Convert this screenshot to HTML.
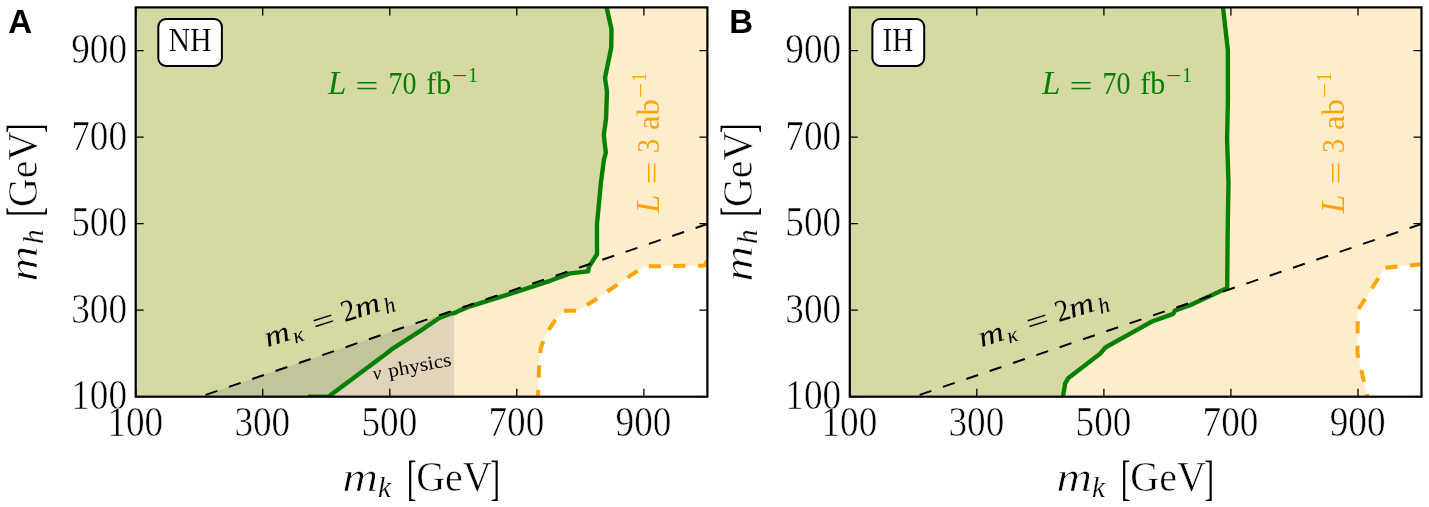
<!DOCTYPE html>
<html lang="en"><head><meta charset="utf-8"><title>Figure</title>
<style>html,body{margin:0;padding:0;background:#fff}svg{display:block}</style>
</head><body>
<svg width="1429" height="507" viewBox="0 0 1429 507">
<rect x="0" y="0" width="1429" height="507" fill="#ffffff"/>
<clipPath id="clipA"><rect x="135.7" y="7.4" width="571.7" height="389.3"/></clipPath>
<g clip-path="url(#clipA)">
<polygon points="135.7,7.4 707.4,7.4 707.4,260.3 704.5,265.6 650.0,266.3 643.6,266.5 597.0,298.7 577.5,310.8 563.8,310.8 556.5,318.5 549.5,328.5 544.5,337.5 540.6,349.0 539.3,362.0 538.0,396.7 135.7,396.7" fill="#ffedcc"/>
<polygon points="135.7,7.4 606.6,7.4 611.5,29.2 611.3,47.3 607.4,66.2 605.0,78.0 607.0,91.7 606.0,119.3 603.8,135.0 605.8,152.8 603.9,160.0 600.8,183.7 597.0,224.0 597.0,254.2 589.0,266.6 588.1,271.4 570.1,273.4 550.0,280.8 514.0,292.6 470.0,306.3 459.4,310.6 455.1,312.8 449.7,313.9 438.8,318.2 421.5,330.1 391.1,349.7 386.8,353.3 328.6,396.5 308.0,396.7 135.7,396.7" fill="#d6d9a3"/>
<polygon points="199.2,396.7 454.2,396.7 454.2,310.5" fill="#808080" fill-opacity="0.23"/>
<polyline points="606.6,7.4 611.5,29.2 611.3,47.3 607.4,66.2 605.0,78.0 607.0,91.7 606.0,119.3 603.8,135.0 605.8,152.8 603.9,160.0 600.8,183.7 597.0,224.0 597.0,254.2 589.0,266.6 588.1,271.4 570.1,273.4 550.0,280.8 514.0,292.6 470.0,306.3 459.4,310.6 455.1,312.8 449.7,313.9 438.8,318.2 421.5,330.1 391.1,349.7 386.8,353.3 328.6,396.5 308.0,396.7" fill="none" stroke="#058005" stroke-width="4.4" stroke-linejoin="round"/>
<polyline points="538.0,396.7 539.3,362.0 540.6,349.0 544.5,337.5 549.5,328.5 556.5,318.5 563.8,310.8 577.5,310.8 597.0,298.7 643.6,266.5 650.0,266.3 704.5,265.6 707.4,260.3" fill="none" stroke="#ffa50a" stroke-width="4.05" stroke-dasharray="12.2 12.4" stroke-dashoffset="5.3" stroke-linejoin="miter"/>
<line x1="199.2" y1="397.0" x2="707.4" y2="224.0" stroke="#000" stroke-width="2" stroke-dasharray="12.45 12.2" stroke-dashoffset="-6.7"/>
</g>
<path d="M135.7 396.7v-8M135.7 7.4v8M135.7 396.7h8M707.4 396.7h-8M262.7 396.7v-8M262.7 7.4v8M135.7 310.2h8M707.4 310.2h-8M389.8 396.7v-8M389.8 7.4v8M135.7 223.7h8M707.4 223.7h-8M516.8 396.7v-8M516.8 7.4v8M135.7 137.2h8M707.4 137.2h-8M643.9 396.7v-8M643.9 7.4v8M135.7 50.7h8M707.4 50.7h-8" stroke="#000" stroke-width="1.3" fill="none"/>
<rect x="135.7" y="7.4" width="571.7" height="389.3" fill="none" stroke="#000" stroke-width="2.2"/>
<text transform="translate(127.0 409.3) scale(1 1.135)" font-family="'Liberation Serif', 'DejaVu Serif', serif" font-size="37.2" fill="#000" text-anchor="end" stroke="#fff" stroke-width="0.5">100</text>
<text transform="translate(135.3 436.0) scale(1 1.135)" font-family="'Liberation Serif', 'DejaVu Serif', serif" font-size="37.2" fill="#000" text-anchor="middle" stroke="#fff" stroke-width="0.5">100</text>
<text transform="translate(127.0 322.8) scale(1 1.135)" font-family="'Liberation Serif', 'DejaVu Serif', serif" font-size="37.2" fill="#000" text-anchor="end" stroke="#fff" stroke-width="0.5">300</text>
<text transform="translate(262.3 436.0) scale(1 1.135)" font-family="'Liberation Serif', 'DejaVu Serif', serif" font-size="37.2" fill="#000" text-anchor="middle" stroke="#fff" stroke-width="0.5">300</text>
<text transform="translate(127.0 236.3) scale(1 1.135)" font-family="'Liberation Serif', 'DejaVu Serif', serif" font-size="37.2" fill="#000" text-anchor="end" stroke="#fff" stroke-width="0.5">500</text>
<text transform="translate(389.4 436.0) scale(1 1.135)" font-family="'Liberation Serif', 'DejaVu Serif', serif" font-size="37.2" fill="#000" text-anchor="middle" stroke="#fff" stroke-width="0.5">500</text>
<text transform="translate(127.0 149.8) scale(1 1.135)" font-family="'Liberation Serif', 'DejaVu Serif', serif" font-size="37.2" fill="#000" text-anchor="end" stroke="#fff" stroke-width="0.5">700</text>
<text transform="translate(516.4 436.0) scale(1 1.135)" font-family="'Liberation Serif', 'DejaVu Serif', serif" font-size="37.2" fill="#000" text-anchor="middle" stroke="#fff" stroke-width="0.5">700</text>
<text transform="translate(127.0 63.3) scale(1 1.135)" font-family="'Liberation Serif', 'DejaVu Serif', serif" font-size="37.2" fill="#000" text-anchor="end" stroke="#fff" stroke-width="0.5">900</text>
<text transform="translate(643.5 436.0) scale(1 1.135)" font-family="'Liberation Serif', 'DejaVu Serif', serif" font-size="37.2" fill="#000" text-anchor="middle" stroke="#fff" stroke-width="0.5">900</text>
<text transform="translate(342.2 491.0)" font-family="'Liberation Serif', 'DejaVu Serif', serif" font-size="41" fill="#000" text-anchor="start" font-style="italic" stroke="#fff" stroke-width="0.7" textLength="36.0" lengthAdjust="spacingAndGlyphs">m</text>
<text transform="translate(378.0 496.8)" font-family="'Liberation Serif', 'DejaVu Serif', serif" font-size="29" fill="#000" text-anchor="start" font-style="italic" stroke="#fff" stroke-width="0.2">k</text>
<text transform="translate(406.9 493.6) scale(1 1.72)" font-family="'Liberation Serif', 'DejaVu Serif', serif" font-size="28" fill="#000" text-anchor="start">[</text>
<text transform="translate(416.2 491.0) scale(1 1.133)" font-family="'Liberation Serif', 'DejaVu Serif', serif" font-size="38" fill="#000" text-anchor="start" stroke="#fff" stroke-width="0.5" textLength="75.5" lengthAdjust="spacingAndGlyphs">GeV</text>
<text transform="translate(490.4 493.6) scale(1 1.72)" font-family="'Liberation Serif', 'DejaVu Serif', serif" font-size="28" fill="#000" text-anchor="start">]</text>
<g transform="translate(37.4 281.0) rotate(-90)">
<text transform="translate(-0.8 0.0)" font-family="'Liberation Serif', 'DejaVu Serif', serif" font-size="41" fill="#000" text-anchor="start" font-style="italic" stroke="#fff" stroke-width="0.7" textLength="36.0" lengthAdjust="spacingAndGlyphs">m</text>
<text transform="translate(37.0 5.6)" font-family="'Liberation Serif', 'DejaVu Serif', serif" font-size="29" fill="#000" text-anchor="start" font-style="italic" stroke="#fff" stroke-width="0.2">h</text>
<text transform="translate(64.6 2.6) scale(1 1.72)" font-family="'Liberation Serif', 'DejaVu Serif', serif" font-size="28" fill="#000" text-anchor="start">[</text>
<text transform="translate(73.9 0.0) scale(1 1.133)" font-family="'Liberation Serif', 'DejaVu Serif', serif" font-size="38" fill="#000" text-anchor="start" stroke="#fff" stroke-width="0.5" textLength="75.5" lengthAdjust="spacingAndGlyphs">GeV</text>
<text transform="translate(148.1 2.6) scale(1 1.72)" font-family="'Liberation Serif', 'DejaVu Serif', serif" font-size="28" fill="#000" text-anchor="start">]</text>
</g>
<text transform="translate(8.2 32.6)" font-family="'Liberation Sans', 'DejaVu Sans', sans-serif" font-size="33" fill="#000" text-anchor="start" font-weight="bold">A</text>
<rect x="158.3" y="19.0" width="63.6" height="46.9" rx="7.5" ry="8" fill="#fff" stroke="#000" stroke-width="2"/>
<text transform="translate(168.4 51.4) scale(1 1.1)" font-family="'Liberation Serif', 'DejaVu Serif', serif" font-size="30" fill="#000" text-anchor="start" stroke="#fff" stroke-width="0.2" textLength="43.3" lengthAdjust="spacingAndGlyphs">NH</text>
<text transform="translate(328.0 93.9)" font-family="'Liberation Serif', 'DejaVu Serif', serif" font-size="33" fill="#058005" text-anchor="start" font-style="italic">L</text>
<text transform="translate(355.5 96.3)" font-family="'Liberation Serif', 'DejaVu Serif', serif" font-size="30" fill="#058005" text-anchor="start" textLength="23.0" lengthAdjust="spacingAndGlyphs">=</text>
<text transform="translate(388.4 93.9) scale(1 1.12)" font-family="'Liberation Serif', 'DejaVu Serif', serif" font-size="28" fill="#058005" text-anchor="start">70</text>
<text transform="translate(426.2 93.9) scale(1 1.12)" font-family="'Liberation Serif', 'DejaVu Serif', serif" font-size="28" fill="#058005" text-anchor="start" textLength="25.0" lengthAdjust="spacingAndGlyphs">fb</text>
<text transform="translate(452.0 83.4) scale(1 1.1)" font-family="'Liberation Serif', 'DejaVu Serif', serif" font-size="20" fill="#058005" text-anchor="start" textLength="15.5" lengthAdjust="spacingAndGlyphs">−</text>
<text transform="translate(468.0 81.9) scale(1 1.1)" font-family="'Liberation Serif', 'DejaVu Serif', serif" font-size="20" fill="#058005" text-anchor="start">1</text>
<g transform="translate(659.4 213.0) rotate(-90)">
<text transform="translate(0.0 0.0)" font-family="'Liberation Serif', 'DejaVu Serif', serif" font-size="33" fill="#ffa50a" text-anchor="start" font-style="italic">L</text>
<text transform="translate(28.5 2.4)" font-family="'Liberation Serif', 'DejaVu Serif', serif" font-size="30" fill="#ffa50a" text-anchor="start" textLength="23.0" lengthAdjust="spacingAndGlyphs">=</text>
<text transform="translate(60.0 0.0) scale(1 1.12)" font-family="'Liberation Serif', 'DejaVu Serif', serif" font-size="28" fill="#ffa50a" text-anchor="start">3</text>
<text transform="translate(83.0 0.0) scale(1 1.12)" font-family="'Liberation Serif', 'DejaVu Serif', serif" font-size="28" fill="#ffa50a" text-anchor="start" textLength="31.0" lengthAdjust="spacingAndGlyphs">ab</text>
<text transform="translate(114.9 -11.6) scale(1 1.1)" font-family="'Liberation Serif', 'DejaVu Serif', serif" font-size="20" fill="#ffa50a" text-anchor="start" textLength="15.5" lengthAdjust="spacingAndGlyphs">−</text>
<text transform="translate(130.9 -13.0) scale(1 1.1)" font-family="'Liberation Serif', 'DejaVu Serif', serif" font-size="20" fill="#ffa50a" text-anchor="start">1</text>
</g>
<g transform="translate(268.2 346.9) rotate(-17.8)">
<text transform="translate(-0.8 0.0)" font-family="'Liberation Serif', 'DejaVu Serif', serif" font-size="29" fill="#000" text-anchor="start" font-style="italic" textLength="25.5" lengthAdjust="spacingAndGlyphs">m</text>
<text transform="translate(26.8 5.0)" font-family="'Liberation Serif', 'DejaVu Serif', serif" font-size="22" fill="#000" text-anchor="start" font-style="italic">κ</text>
<text transform="translate(49.2 2.0)" font-family="'Liberation Serif', 'DejaVu Serif', serif" font-size="30" fill="#000" text-anchor="start" textLength="22.5" lengthAdjust="spacingAndGlyphs">=</text>
<text transform="translate(80.4 0.0) scale(1 1.1)" font-family="'Liberation Serif', 'DejaVu Serif', serif" font-size="28" fill="#000" text-anchor="start">2</text>
<text transform="translate(94.0 0.0)" font-family="'Liberation Serif', 'DejaVu Serif', serif" font-size="29" fill="#000" text-anchor="start" font-style="italic" textLength="25.5" lengthAdjust="spacingAndGlyphs">m</text>
<text transform="translate(122.8 4.8)" font-family="'Liberation Serif', 'DejaVu Serif', serif" font-size="22" fill="#000" text-anchor="start" font-style="italic">h</text>
</g>
<g transform="translate(374.0 380.0) rotate(-10.5)">
<text transform="translate(0.0 0.0)" font-family="'Liberation Serif', 'DejaVu Serif', serif" font-size="19" fill="#000" text-anchor="start" font-style="italic">ν</text>
<text transform="translate(15.5 0.0) scale(1 1.1)" font-family="'Liberation Serif', 'DejaVu Serif', serif" font-size="17.5" fill="#000" text-anchor="start" textLength="64.0" lengthAdjust="spacingAndGlyphs">physics</text>
</g>
<clipPath id="clipB"><rect x="849.8" y="7.4" width="571.7" height="389.3"/></clipPath>
<g clip-path="url(#clipB)">
<polygon points="849.8,7.4 1421.5,7.4 1421.5,264.3 1385.0,267.8 1357.8,310.3 1357.5,354.0 1367.6,396.7 849.8,396.7" fill="#ffedcc"/>
<polygon points="849.8,7.4 1223.0,7.4 1227.9,50.3 1227.9,100.0 1227.1,139.4 1228.5,182.8 1227.7,230.0 1227.2,288.0 1190.0,305.2 1174.8,310.6 1173.3,313.9 1168.3,315.6 1152.0,321.5 1134.7,331.2 1105.4,347.5 1100.4,353.4 1068.4,377.9 1065.2,383.3 1063.0,396.7 849.8,396.7" fill="#d6d9a3"/>
<polyline points="1223.0,7.4 1227.9,50.3 1227.9,100.0 1227.1,139.4 1228.5,182.8 1227.7,230.0 1227.2,288.0 1190.0,305.2 1174.8,310.6 1173.3,313.9 1168.3,315.6 1152.0,321.5 1134.7,331.2 1105.4,347.5 1100.4,353.4 1068.4,377.9 1065.2,383.3 1063.0,396.7" fill="none" stroke="#058005" stroke-width="4.4" stroke-linejoin="round"/>
<polyline points="1367.6,396.7 1357.5,354.0 1357.8,310.3 1385.0,267.8 1421.5,264.3" fill="none" stroke="#ffa50a" stroke-width="4.05" stroke-dasharray="12.2 12.4" stroke-dashoffset="9.3" stroke-linejoin="miter"/>
<line x1="913.3" y1="397.0" x2="1421.5" y2="224.0" stroke="#000" stroke-width="2" stroke-dasharray="12.45 12.2" stroke-dashoffset="-6.7"/>
</g>
<path d="M849.8 396.7v-8M849.8 7.4v8M849.8 396.7h8M1421.5 396.7h-8M976.8 396.7v-8M976.8 7.4v8M849.8 310.2h8M1421.5 310.2h-8M1103.9 396.7v-8M1103.9 7.4v8M849.8 223.7h8M1421.5 223.7h-8M1230.9 396.7v-8M1230.9 7.4v8M849.8 137.2h8M1421.5 137.2h-8M1358.0 396.7v-8M1358.0 7.4v8M849.8 50.7h8M1421.5 50.7h-8" stroke="#000" stroke-width="1.3" fill="none"/>
<rect x="849.8" y="7.4" width="571.7" height="389.3" fill="none" stroke="#000" stroke-width="2.2"/>
<text transform="translate(841.1 409.3) scale(1 1.135)" font-family="'Liberation Serif', 'DejaVu Serif', serif" font-size="37.2" fill="#000" text-anchor="end" stroke="#fff" stroke-width="0.5">100</text>
<text transform="translate(849.4 436.0) scale(1 1.135)" font-family="'Liberation Serif', 'DejaVu Serif', serif" font-size="37.2" fill="#000" text-anchor="middle" stroke="#fff" stroke-width="0.5">100</text>
<text transform="translate(841.1 322.8) scale(1 1.135)" font-family="'Liberation Serif', 'DejaVu Serif', serif" font-size="37.2" fill="#000" text-anchor="end" stroke="#fff" stroke-width="0.5">300</text>
<text transform="translate(976.4 436.0) scale(1 1.135)" font-family="'Liberation Serif', 'DejaVu Serif', serif" font-size="37.2" fill="#000" text-anchor="middle" stroke="#fff" stroke-width="0.5">300</text>
<text transform="translate(841.1 236.3) scale(1 1.135)" font-family="'Liberation Serif', 'DejaVu Serif', serif" font-size="37.2" fill="#000" text-anchor="end" stroke="#fff" stroke-width="0.5">500</text>
<text transform="translate(1103.5 436.0) scale(1 1.135)" font-family="'Liberation Serif', 'DejaVu Serif', serif" font-size="37.2" fill="#000" text-anchor="middle" stroke="#fff" stroke-width="0.5">500</text>
<text transform="translate(841.1 149.8) scale(1 1.135)" font-family="'Liberation Serif', 'DejaVu Serif', serif" font-size="37.2" fill="#000" text-anchor="end" stroke="#fff" stroke-width="0.5">700</text>
<text transform="translate(1230.5 436.0) scale(1 1.135)" font-family="'Liberation Serif', 'DejaVu Serif', serif" font-size="37.2" fill="#000" text-anchor="middle" stroke="#fff" stroke-width="0.5">700</text>
<text transform="translate(841.1 63.3) scale(1 1.135)" font-family="'Liberation Serif', 'DejaVu Serif', serif" font-size="37.2" fill="#000" text-anchor="end" stroke="#fff" stroke-width="0.5">900</text>
<text transform="translate(1357.6 436.0) scale(1 1.135)" font-family="'Liberation Serif', 'DejaVu Serif', serif" font-size="37.2" fill="#000" text-anchor="middle" stroke="#fff" stroke-width="0.5">900</text>
<text transform="translate(1056.3 491.0)" font-family="'Liberation Serif', 'DejaVu Serif', serif" font-size="41" fill="#000" text-anchor="start" font-style="italic" stroke="#fff" stroke-width="0.7" textLength="36.0" lengthAdjust="spacingAndGlyphs">m</text>
<text transform="translate(1092.1 496.8)" font-family="'Liberation Serif', 'DejaVu Serif', serif" font-size="29" fill="#000" text-anchor="start" font-style="italic" stroke="#fff" stroke-width="0.2">k</text>
<text transform="translate(1121.0 493.6) scale(1 1.72)" font-family="'Liberation Serif', 'DejaVu Serif', serif" font-size="28" fill="#000" text-anchor="start">[</text>
<text transform="translate(1130.3 491.0) scale(1 1.133)" font-family="'Liberation Serif', 'DejaVu Serif', serif" font-size="38" fill="#000" text-anchor="start" stroke="#fff" stroke-width="0.5" textLength="75.5" lengthAdjust="spacingAndGlyphs">GeV</text>
<text transform="translate(1204.5 493.6) scale(1 1.72)" font-family="'Liberation Serif', 'DejaVu Serif', serif" font-size="28" fill="#000" text-anchor="start">]</text>
<g transform="translate(751.5 281.0) rotate(-90)">
<text transform="translate(-0.8 0.0)" font-family="'Liberation Serif', 'DejaVu Serif', serif" font-size="41" fill="#000" text-anchor="start" font-style="italic" stroke="#fff" stroke-width="0.7" textLength="36.0" lengthAdjust="spacingAndGlyphs">m</text>
<text transform="translate(37.0 5.6)" font-family="'Liberation Serif', 'DejaVu Serif', serif" font-size="29" fill="#000" text-anchor="start" font-style="italic" stroke="#fff" stroke-width="0.2">h</text>
<text transform="translate(64.6 2.6) scale(1 1.72)" font-family="'Liberation Serif', 'DejaVu Serif', serif" font-size="28" fill="#000" text-anchor="start">[</text>
<text transform="translate(73.9 0.0) scale(1 1.133)" font-family="'Liberation Serif', 'DejaVu Serif', serif" font-size="38" fill="#000" text-anchor="start" stroke="#fff" stroke-width="0.5" textLength="75.5" lengthAdjust="spacingAndGlyphs">GeV</text>
<text transform="translate(148.1 2.6) scale(1 1.72)" font-family="'Liberation Serif', 'DejaVu Serif', serif" font-size="28" fill="#000" text-anchor="start">]</text>
</g>
<text transform="translate(729.3 32.6)" font-family="'Liberation Sans', 'DejaVu Sans', sans-serif" font-size="33" fill="#000" text-anchor="start" font-weight="bold">B</text>
<rect x="872.4" y="19.0" width="51.8" height="46.9" rx="7.5" ry="8" fill="#fff" stroke="#000" stroke-width="2"/>
<text transform="translate(882.5 51.4) scale(1 1.1)" font-family="'Liberation Serif', 'DejaVu Serif', serif" font-size="30" fill="#000" text-anchor="start" stroke="#fff" stroke-width="0.2" textLength="31.0" lengthAdjust="spacingAndGlyphs">IH</text>
<text transform="translate(1042.1 93.9)" font-family="'Liberation Serif', 'DejaVu Serif', serif" font-size="33" fill="#058005" text-anchor="start" font-style="italic">L</text>
<text transform="translate(1069.6 96.3)" font-family="'Liberation Serif', 'DejaVu Serif', serif" font-size="30" fill="#058005" text-anchor="start" textLength="23.0" lengthAdjust="spacingAndGlyphs">=</text>
<text transform="translate(1102.5 93.9) scale(1 1.12)" font-family="'Liberation Serif', 'DejaVu Serif', serif" font-size="28" fill="#058005" text-anchor="start">70</text>
<text transform="translate(1140.3 93.9) scale(1 1.12)" font-family="'Liberation Serif', 'DejaVu Serif', serif" font-size="28" fill="#058005" text-anchor="start" textLength="25.0" lengthAdjust="spacingAndGlyphs">fb</text>
<text transform="translate(1166.1 83.4) scale(1 1.1)" font-family="'Liberation Serif', 'DejaVu Serif', serif" font-size="20" fill="#058005" text-anchor="start" textLength="15.5" lengthAdjust="spacingAndGlyphs">−</text>
<text transform="translate(1182.1 81.9) scale(1 1.1)" font-family="'Liberation Serif', 'DejaVu Serif', serif" font-size="20" fill="#058005" text-anchor="start">1</text>
<g transform="translate(1343.7 213.0) rotate(-90)">
<text transform="translate(0.0 0.0)" font-family="'Liberation Serif', 'DejaVu Serif', serif" font-size="33" fill="#ffa50a" text-anchor="start" font-style="italic">L</text>
<text transform="translate(28.5 2.4)" font-family="'Liberation Serif', 'DejaVu Serif', serif" font-size="30" fill="#ffa50a" text-anchor="start" textLength="23.0" lengthAdjust="spacingAndGlyphs">=</text>
<text transform="translate(60.0 0.0) scale(1 1.12)" font-family="'Liberation Serif', 'DejaVu Serif', serif" font-size="28" fill="#ffa50a" text-anchor="start">3</text>
<text transform="translate(83.0 0.0) scale(1 1.12)" font-family="'Liberation Serif', 'DejaVu Serif', serif" font-size="28" fill="#ffa50a" text-anchor="start" textLength="31.0" lengthAdjust="spacingAndGlyphs">ab</text>
<text transform="translate(114.9 -11.6) scale(1 1.1)" font-family="'Liberation Serif', 'DejaVu Serif', serif" font-size="20" fill="#ffa50a" text-anchor="start" textLength="15.5" lengthAdjust="spacingAndGlyphs">−</text>
<text transform="translate(130.9 -13.0) scale(1 1.1)" font-family="'Liberation Serif', 'DejaVu Serif', serif" font-size="20" fill="#ffa50a" text-anchor="start">1</text>
</g>
<g transform="translate(982.3 346.9) rotate(-17.8)">
<text transform="translate(-0.8 0.0)" font-family="'Liberation Serif', 'DejaVu Serif', serif" font-size="29" fill="#000" text-anchor="start" font-style="italic" textLength="25.5" lengthAdjust="spacingAndGlyphs">m</text>
<text transform="translate(26.8 5.0)" font-family="'Liberation Serif', 'DejaVu Serif', serif" font-size="22" fill="#000" text-anchor="start" font-style="italic">κ</text>
<text transform="translate(49.2 2.0)" font-family="'Liberation Serif', 'DejaVu Serif', serif" font-size="30" fill="#000" text-anchor="start" textLength="22.5" lengthAdjust="spacingAndGlyphs">=</text>
<text transform="translate(80.4 0.0) scale(1 1.1)" font-family="'Liberation Serif', 'DejaVu Serif', serif" font-size="28" fill="#000" text-anchor="start">2</text>
<text transform="translate(94.0 0.0)" font-family="'Liberation Serif', 'DejaVu Serif', serif" font-size="29" fill="#000" text-anchor="start" font-style="italic" textLength="25.5" lengthAdjust="spacingAndGlyphs">m</text>
<text transform="translate(122.8 4.8)" font-family="'Liberation Serif', 'DejaVu Serif', serif" font-size="22" fill="#000" text-anchor="start" font-style="italic">h</text>
</g>
</svg>
</body></html>
